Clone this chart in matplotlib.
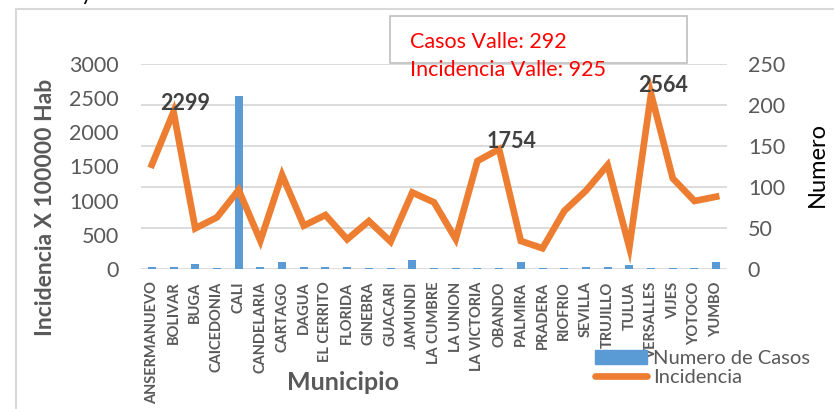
import numpy as np
import matplotlib
matplotlib.use("Agg")
import matplotlib.pyplot as plt
from matplotlib.patches import Rectangle, Patch
from matplotlib.lines import Line2D

plt.rcParams['font.family'] = ['Lato', 'DejaVu Sans']

municipios = ['ANSERMANUEVO', 'BOLIVAR', 'BUGA', 'CAICEDONIA', 'CALI', 'CANDELARIA',
              'CARTAGO', 'DAGUA', 'EL CERRITO', 'FLORIDA', 'GINEBRA', 'GUACARI',
              'JAMUNDI', 'LA CUMBRE', 'LA UNION', 'LA VICTORIA', 'OBANDO', 'PALMIRA',
              'PRADERA', 'RIOFRIO', 'SEVILLA', 'TRUJILLO', 'TULUA', 'VERSALLES',
              'VIJES', 'YOTOCO', 'YUMBO']
casos = [2, 2, 6, 1, 211, 3, 9, 2, 3, 2, 1, 1, 11, 1, 1, 1, 1, 9,
         1, 1, 3, 2, 5, 1, 1, 1, 8]
incidencia = [1525, 2299, 595, 756, 1156, 414, 1375, 634, 790, 434, 702, 400,
              1120, 976, 439, 1580, 1754, 410, 303, 849, 1146, 1521, 317, 2564,
              1327, 995, 1058]
etiquetas = {'BOLIVAR': 2299, 'OBANDO': 1754, 'VERSALLES': 2564}

azul = '#5B9BD5'
naranja = '#ED7D31'
gris = '#595959'

W, H = 834, 409
fig = plt.figure(figsize=(W / 100, H / 100), dpi=100)
ax = fig.add_axes([141 / W, 1 - 269 / H, (727 - 141) / W, (269 - 64) / H])
ax2 = ax.twinx()

x = np.arange(len(municipios))

# casos -> eje derecho, incidencia -> eje izquierdo
ax2.bar(x, casos, width=0.37, color=azul, zorder=2)
ax.plot(x, incidencia, color=naranja, lw=4.8, solid_joinstyle='miter', zorder=3)
ax.set_zorder(ax2.get_zorder() + 1)
ax.patch.set_visible(False)

ax.set_ylim(0, 3000)
ax.set_yticks(range(0, 3001, 500))
ax2.set_ylim(0, 250)
ax2.set_yticks(range(0, 251, 50))
ax.set_xlim(-0.5, len(municipios) - 0.5)

ax2.yaxis.grid(True, color='#D9D9D9', lw=1.3, zorder=0)
ax2.set_axisbelow(True)

for a in (ax, ax2):
    for s in a.spines.values():
        s.set_visible(False)
    a.tick_params(length=0, labelsize=15.5, labelcolor=gris)
ax.tick_params(axis='y', pad=16)
ax2.tick_params(axis='y', pad=15)

ax.set_xticks(x)
ax.set_xticklabels(municipios, rotation=90, fontsize=10.5, fontweight='bold', color=gris)
ax.tick_params(axis='x', pad=9)

for nombre, val in etiquetas.items():
    i = municipios.index(nombre)
    ax.annotate(str(val), (i, val), xytext=(-13, 8), textcoords='offset pixels',
                ha='left', va='center', fontsize=15.5, fontweight='bold', color='#404040', zorder=5)

fig.text(46 / W, 1 - 207 / H, 'Incidencia X 100000 Hab', rotation=90, ha='center', va='center',
         fontsize=16.5, fontweight='bold', color=gris)
fig.text(817 / W, 1 - 164 / H, 'Numero', rotation=90, ha='center', va='center', fontsize=17, color='black')
fig.text(343 / W, 1 - 382 / H, 'Municipio', ha='center', va='center', fontsize=18, fontweight='bold', color=gris)

# recuadro del area del grafico
fig.patches.append(Rectangle((16 / W, -0.1), 1.2, 1 - 9 / H + 0.1, transform=fig.transFigure,
                             fill=False, ec='#D9D9D9', lw=1.5))
fig.text(87 / W, 1.0, 'y', ha='center', va='baseline', fontsize=16, color='black')

# cuadro de texto
fig.patches.append(Rectangle((390 / W, 1 - 63 / H), 297 / W, 47 / H, transform=fig.transFigure,
                             fc='white', ec='#BFBFBF', lw=1.2, zorder=4))
fig.text(410 / W, 1 - 42 / H, 'Casos Valle: 292', ha='left', va='center', fontsize=15.5, color='red', zorder=5)
fig.text(410 / W, 1 - 70 / H, 'Incidencia Valle: 925', ha='left', va='center', fontsize=15.5, color='red', zorder=5)

handles = [Patch(color=azul), Line2D([], [], color=naranja, lw=4.8, solid_capstyle='round')]
fig.legend(handles, ['Numero de Casos', 'Incidencia'], loc='center left',
           bbox_to_anchor=(595 / W, 1 - 368 / H), frameon=False, fontsize=14.5,
           labelcolor=gris, handlelength=2.6, handletextpad=0.3, labelspacing=0.1,
           borderpad=0, borderaxespad=0)

fig.savefig('out.png', dpi=100)
